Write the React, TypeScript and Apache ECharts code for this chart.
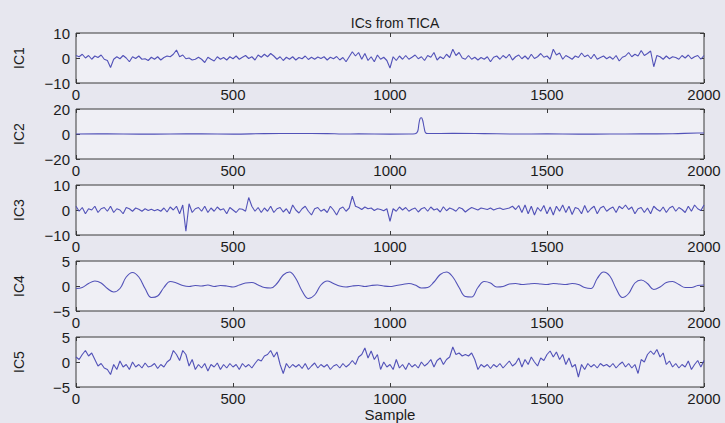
import React, { useEffect, useRef } from "react";
import * as echarts from "echarts";

const TITLE = "ICs from TICA";
const X_NAME = "Sample";
const NAMES = ["IC1", "IC2", "IC3", "IC4", "IC5"];
const X_TICKS = [0, 500, 1000, 1500, 2000];
const Y_LIMITS = [10, 20, 10, 5, 5];
const STEP10 = 10;
const STEP20 = 20;

const IC1 = [
  1, 0.5, 1.5, 0, 1, -0.5, 0.8, 0.2, 1.2, -0.5,
  -1, -3.8, -0.5, 0.5, -0.3, 1, 0, -1.5, 0.5, -0.2,
  0.8, -0.5, -0.3, -1, 0.3, -0.5, 0.5, -0.8, 0.2, 0.8,
  0.5, 1.5, 3.2, 0.5, 1.2, -0.3, 0, -0.8, -0.5, 0.3,
  -0.5, -1.8, 0.3, -0.5, -1.2, 0.5, -0.5, 0.2, -0.8, 0.5,
  -0.3, 0.8, -0.5, 0.3, 1, -0.2, 0.5, -0.8, 1.2, 0.3,
  1.5, 0.5, 1.8, 0.8, -0.5, 0.5, -1, 0.3, -0.5, 0.5,
  -0.8, 0.2, -0.3, 0.8, -0.6, 0.3, -0.5, 0.4, -0.2, 0.5,
  -0.8, 0.3, -0.3, 0.6, -0.8, 0.2, -1.5, 0.5, 2.5, 0.8,
  2.2, -0.5, 1.8, -1, 0.5, -1.5, 1.2, -0.5, 0.3, -1,
  -4, 0.5, -1, 0.8, -0.5, 1, -0.5, 0.3, 1.2, -0.3,
  0.5, -1, 1, 0.3, 2.2, -0.8, 0.5, -0.3, 1.5, 0.2,
  3.5, 1, 2.2, 0, -0.5, 1, -0.5, 0.3, -0.8, 0.2,
  -0.5, 0.5, -1.5, 0.3, 0.8, -0.5, 1, 0, 1.5, -0.8,
  0.5, 1.2, -0.3, 0.8, -0.5, 1.5, -0.2, 0.5, 1.8, 0.3,
  0.8, -0.5, 3.5, 1.2, 2, -0.5, 1, 0.3, -0.5, 0.8,
  0.2, 2, 0.5, 1.2, -0.3, 1.5, -0.5, 0.2, 0.8, -0.3,
  0.5, -0.5, 1, -1.2, 0.3, 0.8, 2.2, 0.5, 1.5, 0.8,
  3, 1, 1.8, 2.8, -3.5, 1, 0.5, -0.5, 0.8, -0.3,
  0.5, 0.2, -0.5, 1, 0, 1.2, -0.3, 0.5, 1, -0.5,
  1,
];

const IC2_X = [
  0, 100, 200, 300, 400, 500, 600, 700, 800, 850, 900, 1000, 1060, 1080,
  1088, 1092, 1096, 1100, 1104, 1108, 1112, 1116, 1120, 1200, 1300, 1400,
  1500, 1600, 1700, 1800, 1900, 1980, 2000,
];
const IC2_Y = [
  0, 0.1, -0.1, 0, 0.1, -0.1, 0.3, 0.4, 0.3, 0, 0.1, -0.1, 0, 0.2,
  2, 8, 12.5, 13, 11, 6, 1.5, 0.5, 0.4, 0.5, 0.3, 0, 0.1, -0.1, 0, 0.1,
  0.2, 0.8, 0.8,
];

const IC3 = [
  1.5, -0.5, 1, -1.5, 0.5, 0, 1.5, -1, 0.5, 1,
  -0.5, 1.5, -1, 0.5, 0, -1.5, 1, 0.5, -0.5, 0.8,
  0.3, -0.5, 0.5, -0.2, 0.3, -0.3, 0.2, -0.5, 0.8, -0.8,
  1.2, 0, 1.5, -1.5, 2, -8.5, 2.5, -1, 0.5, 1,
  -0.5, 1.5, -1, 0.8, -0.5, 1.2, 0, 0.5, -1.5, 1,
  0, -1, 0.5, 0.3, -0.5, 5, 1.5, -0.5, 1, -1,
  0.8, -0.5, 1.5, -1, 0.5, 1, -0.8, 0.5, -1.5, 2,
  0, -1.2, 0.5, 1.5, -0.5, -2, 0.5, 1, -0.5, 0.3,
  -1, 1.5, 0, -2, 0.5, 1.2, -0.5, 0.8, 5.5, 1.5,
  1, 0.2, 1.2, 0.5, 0.8, -0.2, 0.5, 0.2, -0.3, 0.5,
  -4.5, 0.5, -0.5, 1.2, 0, 1, -0.5, 0.3, 0.8, -0.8,
  0.5, 1, -0.5, 1.2, 0, 0.5, -0.8, 1.3, -0.3, 0.8,
  0.3, -0.5, 1, 0.5, -0.8, 0.2, 1, 0.5, 0, 0.8,
  0.5, 0.2, 0.8, 0, 0.5, 0.8, 0.2, 0.5, 0.8, 1.5,
  0.2, 1.8, -1, 2, -1.5, 1.5, -2, 1, -0.5, 1.8,
  -1.5, 1.2, -2, 1.5, -0.5, 2, -1, 1.5, -1.8, 1,
  0.5, -1.5, 1.8, -1, 0.5, 1.5, -1.5, 0.8, 1.5, -0.5,
  0.5, 1.2, -1, 1.5, 0.5, 2, 0.2, 1.2, -1.5, 0.5,
  1, -1, 0.8, -1.5, 1.5, 0.3, -0.5, 1.2, -1, 0.8,
  1.5, -0.5, 1, 0.2, -1, 1.5, -0.5, 2, 0.5, -0.2,
  2,
];

const IC4 = [
  -0.5, -0.3, 0.5, 1, 0.6, -0.5, -1.2, -0.5, 1.8, 2.7,
  1.8, -0.5, -2.3, -2.0, -0.3, 0.9, 0.6, 0.1, -0.1, 0.1,
  0, 0.2, -0.1, 0.1, 0, -0.2, 0.2, 0.6, 0.7, 0.2,
  -0.3, -0.4, 0.5, 2.2, 2.8, 1.5, -1, -2.5, -1.8, 0.2,
  1, 0.5, 0, -0.2, 0, 0.1, -0.1, 0.1, 0.2, 0,
  -0.1, 0.1, 0.3, 0.5, 0.2, -0.4, -0.3, 0.8, 2.3, 2.8,
  1.8, -0.3, -2.1, -2.2, -0.3, 0.9, 0.6, -0.2, -0.1, 0.4,
  0.5, 0.3, 0.4, 0.5, 0.4, 0.3, 0.5, 0.4, 0.3, 0.5,
  0.3, -0.3, -0.5, 1.5, 2.8, 2, -0.5, -2.3, -1.5, 0.6,
  1.2, 0.5, -0.7, -0.2, 0.7, 0.9, 0.3, -0.3, -0.3, 0.1,
  0.2,
];

const IC5 = [
  1, 0.5, 1.5, 2.3, 1.2, 1.8, 0.5, -0.8, -0.3, -1.2,
  -1.5, -2.5, -0.5, -1.5, 0.2, -1, -0.5, -1.5, 0, -1,
  -0.5, -1.2, -0.2, -1, -0.8, -0.3, -1.3, -0.5, -1, 0,
  0.5, 2.3, 1.5, 0.3, 2.3, 1.5, -0.8, 0.5, -1.5, -0.5,
  -1.2, -0.3, -1.8, -0.5, -1, -0.2, -1.5, -0.5, -1.2, -0.3,
  -1, -0.5, -1.5, -0.3, -1, -0.5, -1.2, -0.3, 0.5, 0.2,
  1.2, 1.5, 2.3, 1, 2, -0.5, -2.3, -0.3, -1.2, -0.5,
  -1, -0.5, -1.3, -0.3, -1.5, -0.8, -0.2, -1.2, -0.5, -1,
  -0.5, -1.5, -0.8, -0.5, -1.2, -0.3, -1, -0.5, 0.3, -0.5,
  1, 1.5, 2.8, 0.8, 2.2, 0.5, 1.5, -1.5, 0, -1,
  -0.5, -1.5, 0.5, -1.2, -0.5, -1.5, -0.2, -1, -0.5, -1.2,
  0, -0.8, -0.3, 0.5, -1, 0.3, 0.8, -0.5, 0.5, 1,
  3, 1.5, 1.8, 1.2, 1.5, 1.2, 1.8, 0.5, -1.5, -0.5,
  -1, -0.5, -1.3, -0.5, -1, -0.3, -1.2, -0.5, 0.2, -0.8,
  -0.3, 0.8, -1, 0.5, -0.5, 1, 0, -0.8, 0.8, 0.3,
  1.5, 2.2, 1, 2, 0.5, 1.5, -0.5, 0.8, -1, -0.5,
  -3, -0.5, -1.5, -0.3, -1, -0.5, -1.2, -0.3, -0.8, -0.5,
  -1, -0.3, -1.2, -0.5, 0, -1, -0.3, -1.2, -0.5, -2.3,
  0.5, 0, 1.5, 2.2, 1.5, 2.5, 1, 1.8, -0.5, 0.2,
  -1, -0.3, -1.2, -0.5, -1, 0.2, -1.5, -0.5, 0.3, -1,
  0.3,
];

const SERIES_DATA: number[][][] = [
  IC1.map((v, i) => [i * STEP10, v]),
  IC2_X.map((x, i) => [x, IC2_Y[i]]),
  IC3.map((v, i) => [i * STEP10, v]),
  IC4.map((v, i) => [i * STEP20, v]),
  IC5.map((v, i) => [i * STEP10, v]),
];
const SMOOTH = [false, true, false, true, false];

const FONT = "'Liberation Sans', Arial, Helvetica, sans-serif";
const TEXT_COLOR = "#1c1c1c";
const LINE_COLOR = "#5252b8";
const FRAME = "#3a3a3a";

export default function App() {
  const ref = useRef<HTMLDivElement>(null);

  useEffect(() => {
    document.body.style.margin = "0";
    if (!ref.current) return;
    const chart = echarts.init(ref.current, undefined, { renderer: "svg" });

    const GRID_LEFT = 76;
    const GRID_RIGHT = 21;
    const GRID_TOP0 = 33;
    const GRID_STEP = 76;
    const GRID_H = 50;

    const grids: any[] = [];
    const xAxes: any[] = [];
    const yAxes: any[] = [];
    const series: any[] = [];
    const minus = (v: number) => String(v).replace("-", "\u2212");

    NAMES.forEach((name, i) => {
      grids.push({
        left: GRID_LEFT,
        right: GRID_RIGHT,
        top: GRID_TOP0 + GRID_STEP * i,
        height: GRID_H,
        show: true,
        backgroundColor: "#efeff5",
        borderColor: FRAME,
        borderWidth: 1,
      });
      const xBase = {
        type: "value",
        gridIndex: i,
        min: X_TICKS[0],
        max: X_TICKS[X_TICKS.length - 1],
        interval: X_TICKS[1] - X_TICKS[0],
        splitLine: { show: false },
        axisLine: { show: false, onZero: false },
        axisTick: { show: true, inside: true, length: 4, lineStyle: { color: FRAME } },
      };
      xAxes.push({
        ...xBase,
        position: "bottom",
        axisLabel: {
          show: true,
          color: TEXT_COLOR,
          fontFamily: FONT,
          fontSize: 15,
          margin: 4,
          showMinLabel: true,
          showMaxLabel: true,
          formatter: (v: number) => String(v),
        },
        name: i === NAMES.length - 1 ? X_NAME : "",
        nameLocation: "middle",
        nameGap: 19,
        nameTextStyle: { color: TEXT_COLOR, fontFamily: FONT, fontSize: 15 },
      });
      xAxes.push({ ...xBase, position: "top", axisLabel: { show: false } });
      const lim = Y_LIMITS[i];
      const yBase = {
        type: "value",
        gridIndex: i,
        min: -lim,
        max: lim,
        interval: lim,
        splitLine: { show: false },
        axisLine: { show: false, onZero: false },
        axisTick: { show: true, inside: true, length: 4, lineStyle: { color: FRAME } },
      };
      yAxes.push({
        ...yBase,
        position: "left",
        axisLabel: {
          show: true,
          color: TEXT_COLOR,
          fontFamily: FONT,
          fontSize: 15,
          margin: 6,
          formatter: minus,
        },
        name,
        nameLocation: "middle",
        nameGap: 50,
        nameTextStyle: { color: TEXT_COLOR, fontFamily: FONT, fontSize: 14 },
      });
      yAxes.push({ ...yBase, position: "right", axisLabel: { show: false } });
      series.push({
        type: "line",
        name,
        xAxisIndex: i * 2,
        yAxisIndex: i * 2,
        data: SERIES_DATA[i],
        showSymbol: false,
        symbol: "none",
        smooth: SMOOTH[i] ? 0.4 : false,
        lineStyle: { color: LINE_COLOR, width: 1.1 },
        silent: true,
      });
    });

    chart.setOption({
      animation: false,
      backgroundColor: "#e7e7ef",
      title: {
        text: TITLE,
        left: 390,
        top: 11,
        textAlign: "center",
        textStyle: { color: TEXT_COLOR, fontFamily: FONT, fontSize: 14, fontWeight: "normal" },
      },
      grid: grids,
      xAxis: xAxes,
      yAxis: yAxes,
      series,
    });

    return () => chart.dispose();
  }, []);

  return (
    <div
      ref={ref}
      style={{ position: "fixed", left: 0, top: 0, width: 725, height: 423 }}
    />
  );
}
